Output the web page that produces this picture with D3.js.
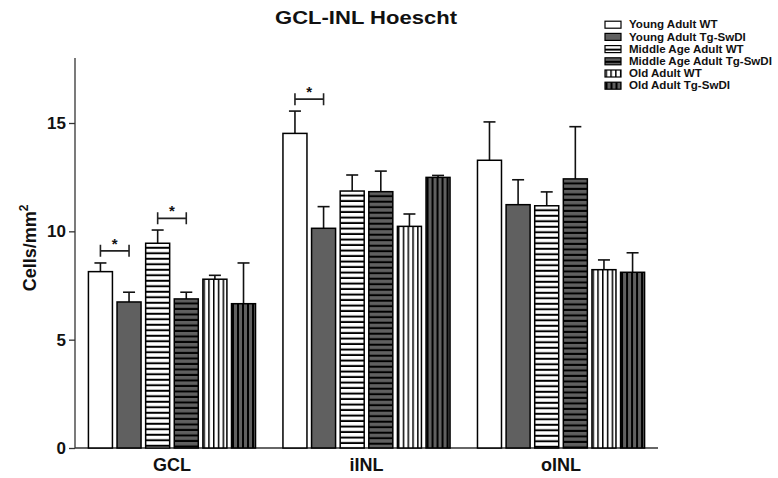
<!DOCTYPE html>
<html>
<head>
<meta charset="utf-8">
<script src="https://cdn.jsdelivr.net/npm/d3@7"></script>
<style>
  html, body { margin: 0; padding: 0; background: #fff; }
  text { font-family: "Liberation Sans", Arial, Helvetica, sans-serif; font-weight: bold; fill: #111; }
</style>
</head>
<body>
<svg id="chart" width="778" height="478"></svg>
<script>
const groups = ["GCL", "iINL", "oINL"];
const seriesNames = ["Young Adult WT", "Young Adult Tg-SwDI", "Middle Age Adult WT", "Middle Age Adult Tg-SwDI", "Old Adult WT", "Old Adult Tg-SwDI"];
const gclMeans  = [8.14, 6.74, 9.45, 6.88, 7.79, 6.66];
const gclErrors = [0.40, 0.45, 0.61, 0.31, 0.18, 1.88];
const iinlMeans  = [14.52, 10.14, 11.86, 11.83, 10.23, 12.49];
const iinlErrors = [1.03, 1.00, 0.74, 0.95, 0.57, 0.09];
const oinlMeans  = [13.28, 11.23, 11.18, 12.42, 8.23, 8.11];
const oinlErrors = [1.77, 1.15, 0.64, 2.41, 0.45, 0.90];
const yTicks = [0, 5, 10, 15];
const sigGroups = ["GCL", "GCL", "iINL"];
const sigFrom = [0, 2, 0];
const sigTo = [1, 3, 1];
const sigLevel = [9.1, 10.6, 16.1];

const meansByGroup = [gclMeans, iinlMeans, oinlMeans];
const errorsByGroup = [gclErrors, iinlErrors, oinlErrors];

const styles = [
  {base: "#ffffff", dir: null},
  {base: "#606060", dir: null},
  {base: "#ffffff", dir: "h"},
  {base: "#606060", dir: "h"},
  {base: "#ffffff", dir: "v"},
  {base: "#606060", dir: "v"}
];

const svg = d3.select("#chart");
const defs = svg.append("defs");

const x0 = d3.scaleBand().domain(groups).range([75, 658]).paddingInner(0.141).paddingOuter(0.069);
const x1 = d3.scaleBand().domain(d3.range(seriesNames.length)).range([0, x0.bandwidth()]).paddingInner(0.161).paddingOuter(0);
const y = d3.scaleLinear().domain([0, 18]).range([448, 58]);

const data = [];
groups.forEach((g, gi) => {
  seriesNames.forEach((s, si) => {
    data.push({group: g, gi, si, mean: meansByGroup[gi][si], err: errorsByGroup[gi][si]});
  });
});

function makePattern(id, st, ox, oy) {
  if (!st.dir) return;
  const period = st.dir === "h" ? 5.5 : (st.base === "#ffffff" ? 4.8 : 5);
  const lw = st.dir === "h" ? 2 : (st.base === "#ffffff" ? 1.5 : 2);
  const p = defs.append("pattern")
    .attr("id", id)
    .attr("patternUnits", "userSpaceOnUse")
    .attr("x", ox).attr("y", oy)
    .attr("width", st.dir === "v" ? period : 10)
    .attr("height", st.dir === "h" ? period : 10);
  p.append("rect").attr("width", st.dir === "v" ? period : 10).attr("height", st.dir === "h" ? period : 10).attr("fill", st.base);
  if (st.dir === "h") {
    p.append("rect").attr("x", 0).attr("y", period - lw).attr("width", 10).attr("height", lw).attr("fill", "#000");
  } else {
    p.append("rect").attr("x", 0).attr("y", 0).attr("width", lw).attr("height", 10).attr("fill", "#000");
  }
}
function fillFor(id, st) { return st.dir ? `url(#${id})` : st.base; }

// Y axis
const yAxis = d3.axisLeft(y).tickValues(yTicks).tickSize(6).tickPadding(3).tickFormat(d3.format("d"));
const gy = svg.append("g").attr("transform", "translate(75,0)").call(yAxis);
gy.select(".domain").attr("stroke", "#333").attr("stroke-width", 1.3).attr("d", `M0,${y(18)}V${y(0)}`);
gy.selectAll(".tick line").attr("stroke", "#333").attr("stroke-width", 1.3);
gy.selectAll(".tick text").attr("font-size", 17).attr("font-weight", "bold")
  .attr("font-family", '"Liberation Sans", Arial, sans-serif').attr("fill", "#111");

// X axis
const gx = svg.append("g").attr("transform", `translate(0,${y(0)})`)
  .call(d3.axisBottom(x0).tickSize(0).tickPadding(0));
gx.select(".domain").attr("stroke", "#333").attr("stroke-width", 1.3).attr("d", `M75,0H658`);
gx.selectAll(".tick text").attr("font-size", 18).attr("font-weight", "bold")
  .attr("font-family", '"Liberation Sans", Arial, sans-serif').attr("fill", "#111")
  .attr("y", 23).attr("dy", 0);

// Bars
const bars = svg.append("g");
data.forEach((d, i) => {
  const bx = x0(d.group) + x1(d.si);
  const bw = x1.bandwidth();
  const st = styles[d.si];
  const pid = `pat-bar-${i}`;
  makePattern(pid, st, bx + 0.5, y(d.mean));
  const cx = bx + bw / 2;
  bars.append("line").attr("x1", cx).attr("x2", cx).attr("y1", y(d.mean)).attr("y2", y(d.mean + d.err))
    .attr("stroke", "#111").attr("stroke-width", 1.6);
  bars.append("line").attr("x1", cx - 6).attr("x2", cx + 6).attr("y1", y(d.mean + d.err)).attr("y2", y(d.mean + d.err))
    .attr("stroke", "#111").attr("stroke-width", 1.6);
  bars.append("rect").attr("x", bx).attr("y", y(d.mean)).attr("width", bw).attr("height", y(0) - y(d.mean))
    .attr("fill", fillFor(pid, st)).attr("stroke", "#000").attr("stroke-width", 1.5);
});

// Significance brackets
const sig = svg.append("g");
sigGroups.forEach((g, k) => {
  const xa = x0(g) + x1(sigFrom[k]) + x1.bandwidth() / 2;
  const xb = x0(g) + x1(sigTo[k]) + x1.bandwidth() / 2;
  const yy = y(sigLevel[k]);
  sig.append("path").attr("d", `M${xa},${yy - 6}V${yy + 6}M${xa},${yy}H${xb}M${xb},${yy - 6}V${yy + 6}`)
    .attr("fill", "none").attr("stroke", "#222").attr("stroke-width", 1.6);
  sig.append("text").attr("x", (xa + xb) / 2).attr("y", yy - 2).attr("text-anchor", "middle")
    .attr("font-size", 15).text("*");
});

// Title
svg.append("text").attr("x", 366).attr("y", 24).attr("text-anchor", "middle")
  .attr("font-size", 18).attr("textLength", 182).attr("lengthAdjust", "spacingAndGlyphs")
  .text("GCL-INL Hoescht");

// Y label
const yl = svg.append("text").attr("transform", "translate(36,248) rotate(-90)").attr("text-anchor", "middle")
  .attr("font-size", 18);
yl.append("tspan").text("Cells/mm");
yl.append("tspan").attr("font-size", 12).attr("dy", -8).text("2");

// Legend
const legend = svg.append("g");
seriesNames.forEach((s, i) => {
  const cy = 24.7 + i * 12.2;
  const st = styles[i];
  const pid = `pat-leg-${i}`;
  makePattern(pid, st, 605.5, cy - 3.5 + (st.dir === "h" ? -0.5 : 0));
  legend.append("rect").attr("x", 605).attr("y", cy - 3.5).attr("width", 16).attr("height", 7)
    .attr("fill", fillFor(pid, st)).attr("stroke", "#000").attr("stroke-width", 1.2);
  const t = legend.append("text").attr("x", 629).attr("y", cy).attr("dy", "0.36em")
    .attr("font-size", 10.5).attr("fill", "#1a1a1a").text(s);
  const w = t.node().getComputedTextLength();
  t.attr("textLength", w * 1.1).attr("lengthAdjust", "spacingAndGlyphs");
});
</script>
</body>
</html>
